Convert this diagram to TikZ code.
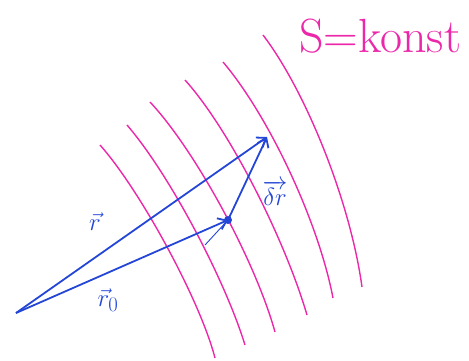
\documentclass[tikz,border=0pt]{standalone}
\usetikzlibrary{arrows.meta}
\definecolor{pinkline}{RGB}{236,40,170}
\definecolor{penblue}{RGB}{35,70,215}
\tikzset{
  level/.style={draw=pinkline,line width=1.4pt},
  vecarrow/.style={draw=penblue,line width=1.8pt,-{Straight Barb[length=8pt,width=12pt,line width=1.8pt]}},
  veclabel/.style={text=penblue,font=\fontsize{28}{28}\selectfont,inner sep=0pt},
}
\begin{document}
\begin{tikzpicture}[x=1pt,y=-1pt]
\useasboundingbox (0,0) rectangle (469,360);
% level surfaces S = const
\draw[level] (100,145) .. controls (140,190) and (200,300) .. (215,358);
\draw[level] (127,125) .. controls (170,175) and (225,280) .. (245,345);
\draw[level] (150,102) .. controls (195,150) and (255,260) .. (275,332);
\draw[level] (185,80) .. controls (230,130) and (285,240) .. (307,315);
\draw[level] (223,62) .. controls (268,115) and (318,220) .. (333,298);
\draw[level] (263,35) .. controls (305,90) and (350,200) .. (362,287);
\node[text=pinkline,font=\fontsize{48}{48}\selectfont,inner sep=0pt] (S) at (380,36) {S=konst};
% points
\coordinate (O) at (16,313);
\coordinate (T) at (267,137);
\node[circle,fill=penblue,inner sep=0pt,minimum size=8pt] (P) at (228,220) {};
\coordinate (Q) at (205,245);
% vectors
\draw[vecarrow] (O) -- (T);
\draw[vecarrow] (O) -- (P.center);
\draw[vecarrow] (P.center) -- (T);
\draw[draw=penblue,line width=0.9pt] (P.center) -- (Q);
% labels
\node[veclabel] (r) at (95,222) {$\vec{r}$};
\node[veclabel] (r0) at (108,300) {$\vec{r}_0$};
\node[veclabel] (dr) at (275,193) {$\overrightarrow{\delta r}$};
\end{tikzpicture}
\end{document}
